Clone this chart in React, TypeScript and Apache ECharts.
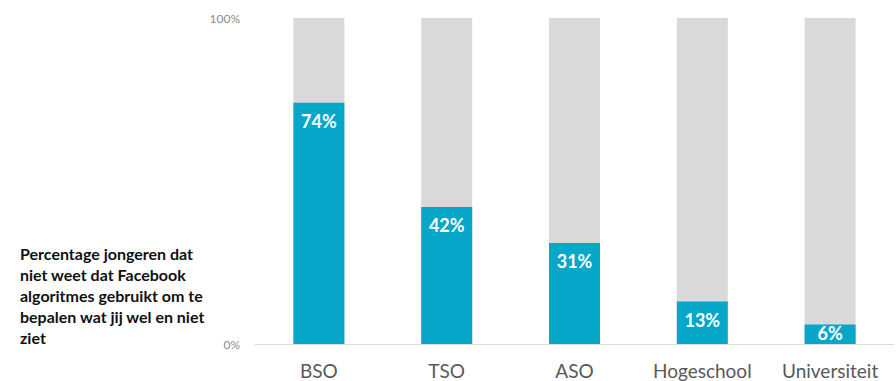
import React, { useEffect, useRef } from "react";
import * as echarts from "echarts";

const categories = ["BSO", "TSO", "ASO", "Hogeschool", "Universiteit"];
const values = [74, 42, 31, 13, 6];
const yTicks = [0, 100];
const noteLines = [
  "Percentage jongeren dat",
  "niet weet dat Facebook",
  "algoritmes gebruikt om te",
  "bepalen wat jij wel en niet",
  "ziet",
];

const FONT = "Lato, 'Open Sans', sans-serif";

export default function App() {
  const ref = useRef<HTMLDivElement>(null);
  useEffect(() => {
    if (!ref.current) return;
    const chart = echarts.init(ref.current, undefined, { renderer: "svg" });
    chart.setOption({
      animation: false,
      backgroundColor: "#ffffff",
      grid: { left: 255, right: 2, top: 18, bottom: 37, containLabel: false },
      xAxis: {
        type: "category",
        data: categories,
        axisTick: { show: false },
        axisLine: { lineStyle: { color: "#d9d9d9", width: 1 } },
        axisLabel: {
          interval: 0,
          hideOverlap: false,
          color: "#595959",
          fontFamily: FONT,
          fontSize: 19,
          lineHeight: 19,
          margin: 17,
        },
      },
      yAxis: {
        type: "value",
        min: yTicks[0],
        max: yTicks[1],
        interval: 100,
        splitLine: { show: false },
        axisLine: { show: false },
        axisTick: { show: false },
        axisLabel: {
          formatter: "{value}%",
          color: "#8c8c8c",
          fontFamily: FONT,
          fontSize: 12,
          margin: 15,
        },
      },
      series: [
        {
          type: "bar",
          data: values.map((v) =>
            v < 10 ? { value: v, label: { distance: 0 } } : v
          ),
          barWidth: 51,
          itemStyle: { color: "#06a7c9" },
          showBackground: true,
          backgroundStyle: { color: "#d9d9d9" },
          label: {
            show: true,
            position: "insideTop",
            distance: 9,
            formatter: "{c}%",
            color: "#ffffff",
            fontWeight: "bold",
            fontSize: 18,
            fontFamily: FONT,
          },
        },
      ],
      graphic: noteLines.map((line, i) => ({
        type: "text",
        left: 20,
        top: 245 + i * 21,
        style: {
          text: line,
          fill: "#111111",
          fontWeight: "bold",
          fontSize: 16,
          fontFamily: FONT,
        },
      })),
    });
    return () => chart.dispose();
  }, []);
  return (
    <div
      ref={ref}
      style={{ position: "fixed", left: 0, top: 0, width: 896, height: 381 }}
    />
  );
}
